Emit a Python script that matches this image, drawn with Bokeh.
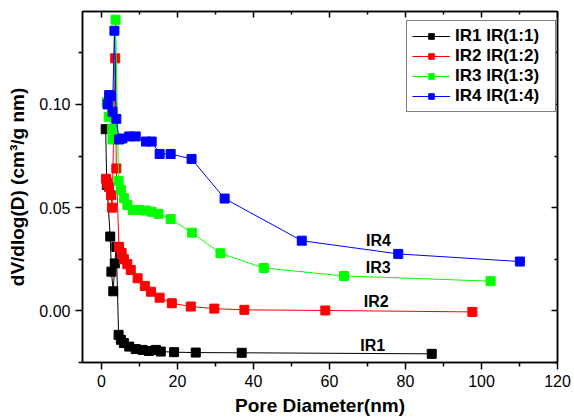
from bokeh.plotting import figure
from bokeh.models import FixedTicker, LinearAxis, Range1d, Legend, LegendItem
from bokeh.core.properties import value
from bokeh.embed import file_html
from bokeh.resources import INLINE

# ---- data ----
ir1_x = [1.1, 1.4, 2.3, 2.6, 3.1, 3.5, 3.9, 4.5, 5.1, 5.9, 7.3, 9.0, 10.8, 12.5, 14.3, 15.6, 19.1, 24.8, 36.9, 86.9]
ir1_y = [0.088, 0.061, 0.036, 0.019, 0.0095, 0.023, 0.031, -0.0116, -0.014, -0.0156, -0.0173, -0.0185, -0.0189,
         -0.0194, -0.0189, -0.0197, -0.0200, -0.0202, -0.0203, -0.0208]

ir2_x = [1.2, 1.5, 2.0, 2.5, 2.8, 3.6, 3.9, 4.6, 5.3, 5.9, 6.8, 7.7, 9.5, 11.4, 13.0, 15.3, 18.5, 23.5, 29.7, 37.6, 58.9, 97.6]
ir2_y = [0.064, 0.062, 0.060, 0.056, 0.050, 0.1223, 0.069, 0.031, 0.028, 0.025, 0.0226, 0.0198, 0.0158, 0.0121,
         0.0093, 0.0064, 0.0037, 0.0021, 0.0011, 0.0005, 0.0002, -0.0005]

ir3_x = [1.4, 1.9, 2.8, 2.9, 3.7, 4.5, 5.1, 5.9, 6.8, 8.2, 9.9, 11.7, 13.2, 15.0, 18.2, 23.8, 31.3, 42.7, 63.8, 102.4]
ir3_y = [0.101, 0.094, 0.088, 0.083, 0.141, 0.063, 0.0586, 0.0546, 0.0513, 0.0489, 0.0489, 0.0486, 0.048, 0.047,
         0.0445, 0.0379, 0.0279, 0.0208, 0.0169, 0.0144]

ir4_x = [1.6, 2.0, 2.4, 2.9, 3.4, 3.9, 4.6, 5.5, 7.3, 9.0, 11.7, 13.2, 15.3, 18.2, 23.7, 32.4, 52.7, 78.1, 110.1]
ir4_y = [0.100, 0.1045, 0.104, 0.0965, 0.1357, 0.093, 0.083, 0.0835, 0.0845, 0.0845, 0.082, 0.082, 0.076, 0.076,
         0.0736, 0.0544, 0.034, 0.0276, 0.0239]

series_names = ["IR1 IR(1:1)", "IR2 IR(1:2)", "IR3 IR(1:3)", "IR4 IR(1:4)"]
series_colors = ["#000000", "#ff0000", "#00ff00", "#0000ff"]

label_text = ["IR4", "IR3", "IR2", "IR1"]
label_x = [72.9, 72.8, 72.3, 71.4]
label_y = [0.034, 0.021, 0.0045, -0.017]

x_major = [0, 20, 40, 60, 80, 100, 120]
x_minor = [10, 30, 50, 70, 90, 110]
y_major = [0.0, 0.05, 0.10]
y_minor = [-0.025, 0.025, 0.075, 0.125]

FONT = "Liberation Sans"

p = figure(width=574, height=419, output_backend="svg", toolbar_location=None,
           x_range=Range1d(-5, 120), y_range=Range1d(-0.025, 0.145),
           min_border_left=82, min_border_right=17, min_border_top=11, min_border_bottom=57)
p.frame_width = 475
p.frame_height = 351
p.grid.visible = False
p.outline_line_color = "black"
p.outline_line_width = 1.5
p.background_fill_color = "white"
p.border_fill_color = "white"

for ax in (p.xaxis[0], p.yaxis[0]):
    ax.axis_line_width = 1.5
    ax.major_tick_line_width = 1.5
    ax.minor_tick_line_width = 1.5
    ax.major_tick_out = 7
    ax.major_tick_in = 0
    ax.minor_tick_out = 4
    ax.minor_tick_in = 0
    ax.major_label_text_font = FONT
    ax.major_label_text_font_size = "16px"
    ax.major_label_text_color = "black"
    ax.axis_label_text_font = FONT
    ax.axis_label_text_font_style = "bold"
    ax.axis_label_text_color = "black"

p.xaxis[0].ticker = FixedTicker(ticks=x_major, minor_ticks=x_minor)
p.yaxis[0].ticker = FixedTicker(ticks=y_major, minor_ticks=y_minor)
p.yaxis[0].major_label_overrides = {0.0: "0.00", 0.05: "0.05", 0.10: "0.10"}
p.xaxis[0].axis_label = "Pore Diameter(nm)"
p.xaxis[0].axis_label_text_font_size = "19px"
p.xaxis[0].axis_label_standoff = 5
p.yaxis[0].axis_label = "dV/dlog(D) (cm³/g nm)"
p.yaxis[0].axis_label_text_font_size = "19px"
p.yaxis[0].axis_label_standoff = 8

top = LinearAxis(ticker=FixedTicker(ticks=x_major, minor_ticks=x_minor))
right = LinearAxis(ticker=FixedTicker(ticks=y_major, minor_ticks=y_minor))
top.major_label_overrides = {t: "" for t in x_major}
right.major_label_overrides = {t: "" for t in y_major}
for ax in (top, right):
    ax.major_label_text_font_size = "0px"
    ax.major_label_text_alpha = 0
    ax.major_tick_in = 6
    ax.major_tick_out = 0
    ax.minor_tick_in = 3
    ax.minor_tick_out = 0
    ax.axis_line_width = 1.5
    ax.major_tick_line_width = 1.5
    ax.minor_tick_line_width = 1.5
    ax.major_label_standoff = 0
p.add_layout(top, "above")
p.add_layout(right, "right")

xs = [ir1_x, ir2_x, ir3_x, ir4_x]
ys = [ir1_y, ir2_y, ir3_y, ir4_y]
items = []
for xv, yv, c, name in zip(xs, ys, series_colors, series_names):
    l = p.line(xv, yv, line_color=c, line_width=1)
    s = p.scatter(xv, yv, marker="square", size=9, fill_color=c, line_color=c)
    items.append(LegendItem(label=name, renderers=[l, s]))

p.text(x=label_x, y=label_y, text=label_text, text_font=value(FONT), text_font_style="bold",
       text_font_size="16px", text_align="center", text_baseline="middle", text_color="black")

legend = Legend(items=items, location=(324, 250))
legend.label_text_font = FONT
legend.label_text_font_style = "bold"
legend.label_text_font_size = "17px"
legend.label_text_color = "black"
legend.glyph_width = 38
legend.glyph_height = 14
legend.label_height = 14
legend.label_width = 95
legend.label_standoff = 5
legend.spacing = 0
legend.padding = 5
legend.margin = 0
legend.border_line_color = "black"
legend.border_line_width = 1
legend.background_fill_alpha = 1
p.add_layout(legend, "center")

open("out.html", "w").write(file_html(p, INLINE))
